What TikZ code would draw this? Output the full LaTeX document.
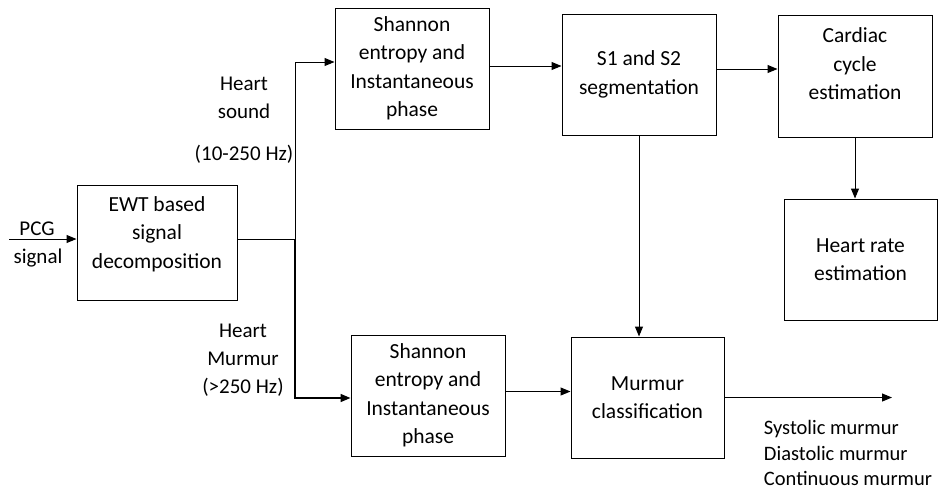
\documentclass[tikz,border=0pt]{standalone}
\usepackage{fontspec}
\setmainfont{Carlito}
\usetikzlibrary{arrows.meta,positioning}

\begin{document}
\begin{tikzpicture}[
    x=1pt, y=-1pt,
    box/.style={draw, line width=1pt, align=center, minimum width=154pt, minimum height=121pt, inner sep=2pt, font=\fontsize{21.5}{28.5}\selectfont},
    lbl/.style={align=center, inner sep=0pt, font=\fontsize{21}{28}\selectfont},
    link/.style={-{Triangle[length=10pt,width=8pt]}, line width=1pt}
]
\useasboundingbox (0,0) rectangle (938,493);
\node[box, minimum width=160pt, minimum height=115pt] (ewt) at (157,242.5) {EWT based\\signal\\decomposition\\[-8pt]\mbox{}};
\node[box] (sh1) at (412,68.5) {Shannon\\entropy and\\Instantaneous\\phase};
\node[box] (seg) at (639,74.5) {S1 and S2\\segmentation};
\node[box, minimum height=122pt] (card) at (855,76) {Cardiac\\cycle\\estimation\\[-4pt]\mbox{}};
\node[box, minimum width=153pt] (hr) at (860.5,259.5) {Heart rate\\estimation};
\node[box] (sh2) at (428,395.5) {Shannon\\entropy and\\Instantaneous\\phase};
\node[box, minimum width=153pt] (mur) at (647.5,397.5) {Murmur\\classification};
\node[lbl] (pcg) at (37,229) {PCG};
\node[lbl] (sig) at (38,258) {signal};
\node[lbl] (hs) at (244,120) {Heart\\sound\\[14pt](10-250 Hz)};
\node[lbl] (hm) at (243,360) {Heart\\Murmur\\(>250 Hz)};
\node[lbl, align=left, font=\fontsize{20.5}{25.5}\selectfont] (out) at (848,453) {Systolic murmur\\Diastolic murmur\\Continuous murmur};
\coordinate (pcgin) at (9,239);
\coordinate (jn) at (295,239);
\coordinate (res) at (892,397.5);
\draw[link] (pcgin) -- (pcgin -| ewt.west);
\draw[line width=1pt] (ewt.east |- jn) -- (jn);
\draw[link] (jn) |- ([yshift=6.5pt]sh1.west);
\draw[link, line width=1.6pt] (jn) |- ([yshift=-2.5pt]sh2.west);
\draw[link] ([yshift=2.5pt]sh1.east) -- ([yshift=2.5pt]sh1.east -| seg.west);
\draw[link] ([yshift=5.5pt]seg.east) -- ([yshift=5.5pt]seg.east -| card.west);
\draw[link] (card.south) -- (card.south |- hr.north);
\draw[link] (seg.south) -- (seg.south |- mur.north);
\draw[link] ([yshift=4pt]sh2.east) -- ([yshift=4pt]sh2.east -| mur.west);
\draw[link] (mur.east) -- (res);
\end{tikzpicture}
\end{document}
